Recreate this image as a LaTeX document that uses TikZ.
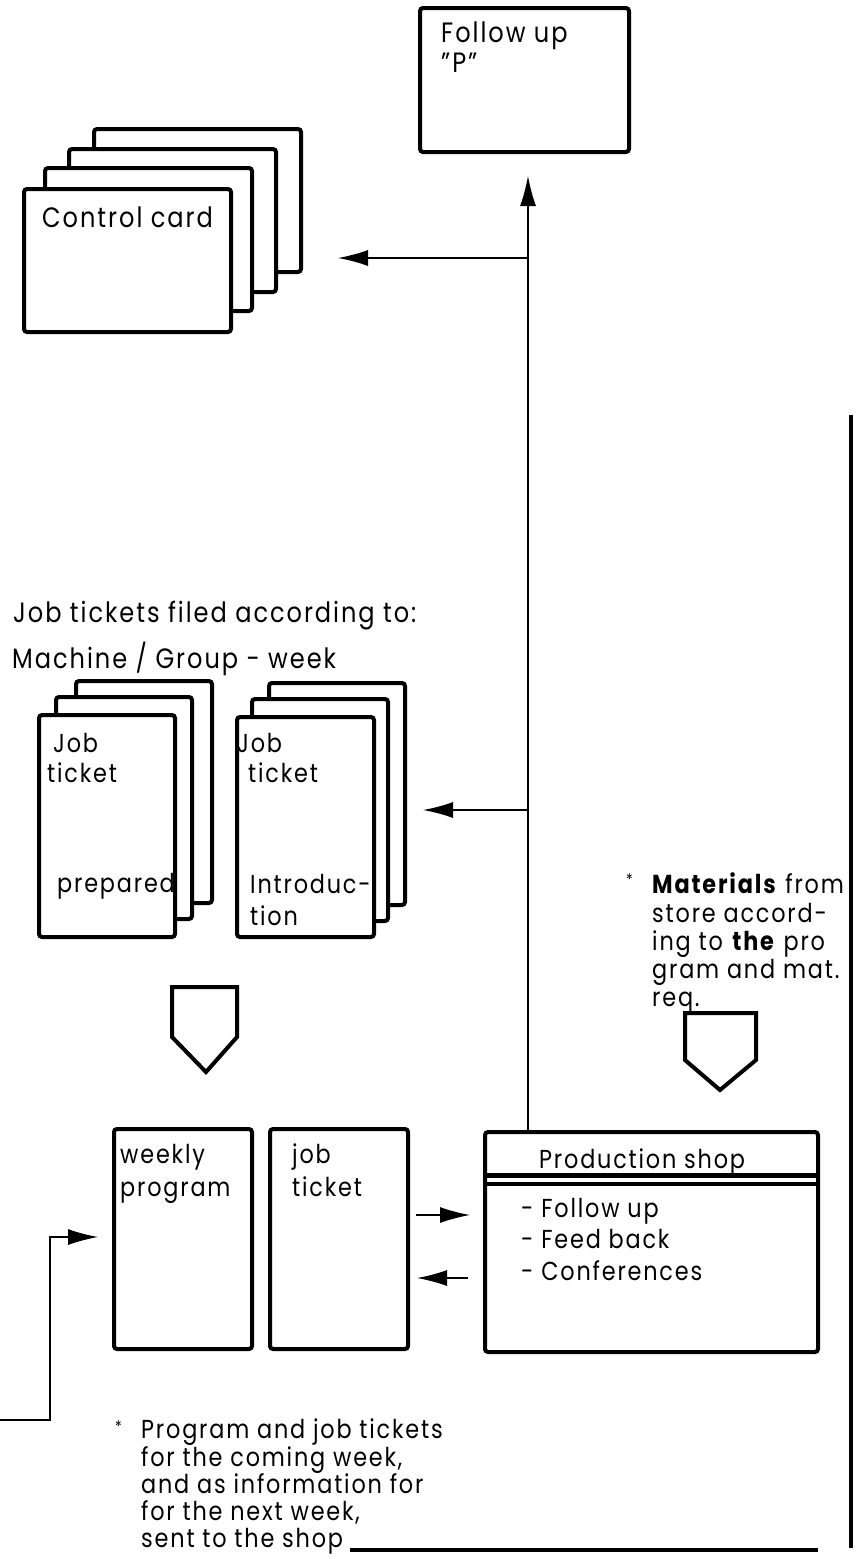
\documentclass[tikz,border=0pt]{standalone}
\usepackage{fontspec}
\setmainfont{Poppins}[FakeStretch=0.86,LetterSpace=7]
\usetikzlibrary{arrows.meta}
\begin{document}
\begin{tikzpicture}[x=1pt,y=-1pt,
  card/.style={draw=black, line width=4pt, fill=white, rounded corners=3pt},
  box/.style={draw=black, line width=4pt, fill=white, rounded corners=3pt, inner sep=0pt, anchor=north west},
  pent/.style={draw=black, line width=4pt, line join=miter, fill=white},
  conn/.style={line width=1.3pt},
  arr/.style={-{Latex[length=30pt,width=16pt]}},
  txt/.style={anchor=base west, inner sep=0pt, font=\fontsize{26}{28}\selectfont},
  bigtxt/.style={anchor=base west, inner sep=0pt, font=\fontsize{28}{30}\selectfont}]
\useasboundingbox (0,0) rectangle (856,1559);

% Follow up box
\node[box, minimum width=209pt, minimum height=144pt] (fu) at (418,6) {};
\node[bigtxt] (fut1) at (441,42) {Follow up};
\node[bigtxt] (fut2) at (441,72) {\symbol{34}P\symbol{34}};

% Control card stack
\draw[card] (94,129) rectangle ++(207,143);
\draw[card] (69,149) rectangle ++(207,143);
\draw[card] (45,168) rectangle ++(207,143);
\node[box, minimum width=207pt, minimum height=143pt] (cc) at (22,187) {};
\node[bigtxt] (cct) at (42,227) {Control card};

% Job tickets heading
\node[bigtxt] (jh1) at (13,622) {Job tickets filed according to:};
\node[bigtxt] (jh2) at (12,668) {Machine / Group - week};

% Left job ticket stack
\draw[card] (76,681) rectangle ++(136,222);
\draw[card] (56,697) rectangle ++(136,222);
\node[box, minimum width=136pt, minimum height=222pt] (jl) at (37,713) {};
\node[txt] (jl1) at (53,752) {Job};
\node[txt] (jl2) at (47,782) {ticket};
\node[txt] (jl3) at (57,892) {prepared};

% Right job ticket stack
\draw[card] (269,683) rectangle ++(136,222);
\draw[card] (252,699) rectangle ++(136,222);
\node[box, minimum width=137pt, minimum height=220pt] (jr) at (235,715) {};
\node[txt] (jr1) at (237,752) {Job};
\node[txt] (jr2) at (248,782) {ticket};
\node[txt] (jr3) at (250,893) {Introduc-};
\node[txt] (jr4) at (250,925) {tion};

% Materials note (clipped by the right border)
\begin{scope}
\clip (600,850) rectangle (849,1012);
\node[txt] (mast) at (626,885) {\fontsize{16}{16}\selectfont *};
\node[txt] (mat1) at (652,893) {\textbf{Materials} from};
\node[txt] (mat2) at (652,922) {store accord-};
\node[txt] (mat3) at (652,950) {ing to \textbf{the} pro};
\node[txt] (mat4) at (652,978) {gram and mat.};
\node[txt] (mat5) at (652,1006) {req.};
\end{scope}

% Pentagon markers
\draw[pent] (172,987) -- (237,987) -- (237,1037) -- (206,1072) -- (172,1037) -- cycle;
\draw[pent] (685,1013) -- (756,1013) -- (756,1060) -- (720,1090) -- (685,1060) -- cycle;

% Bottom boxes
\node[box, minimum width=138pt, minimum height=220pt] (wp) at (112,1127) {};
\node[txt] (wp1) at (120,1163) {weekly};
\node[txt] (wp2) at (120,1196) {program};
\node[box, minimum width=138pt, minimum height=220pt] (jt) at (268,1127) {};
\node[txt] (jt1) at (292,1163) {job};
\node[txt] (jt2) at (292,1196) {ticket};

\node[box, minimum width=333pt, minimum height=220pt] (ps) at (483,1130) {};
\draw[line width=4.5pt] (ps.west |- 0,1175.5) -- (ps.east |- 0,1175.5);
\draw[line width=4pt] (ps.west |- 0,1184) -- (ps.east |- 0,1184);
\node[txt] (pst) at (539,1168) {Production shop};
\node[txt] (ps1) at (521,1217) {- Follow up};
\node[txt] (ps2) at (521,1248) {- Feed back};
\node[txt] (ps3) at (521,1280) {- Conferences};

% Bottom note
\node[txt] (bast) at (115,1432) {\fontsize{16}{16}\selectfont *};
\node[txt] (bn1) at (141,1438) {Program and job tickets};
\node[txt] (bn2) at (141,1466) {for the coming week,};
\node[txt] (bn3) at (141,1493) {and as information for};
\node[txt] (bn4) at (141,1520) {for the next week,};
\node[txt] (bn5) at (141,1547) {sent to the shop};

% Connectors
\coordinate (vx) at (528,0);
\coordinate (b1) at (528,258);
\coordinate (t1) at (338,258);
\coordinate (b2) at (528,810);
\coordinate (t2) at (423,810);
\draw[conn,arr,shorten >=22pt] (ps.north -| vx) -- (fu.south -| vx);
\draw[conn,arr] (b1) -- (t1);
\draw[conn,arr] (b2) -- (t2);

\coordinate (ra) at (416,1215);
\coordinate (la) at (468,1278);
\draw[conn,arr,shorten >=13pt] (ra) -- (ps.west |- ra);
\draw[conn,arr,shorten >=7pt] (la) -- (jt.east |- la);

\coordinate (e0) at (0,1420);
\coordinate (e1) at (50,1237);
\draw[conn,arr,shorten >=14pt] (e0) -| (e1) -- (wp.west |- e1);

% Frame lines
\coordinate (f1) at (350,1550);
\coordinate (f2) at (818,1550);
\coordinate (f3) at (851,415);
\coordinate (f4) at (851,1548);
\draw[line width=4pt] (f1) -- (f2);
\draw[line width=4pt] (f3) -- (f4);
\end{tikzpicture}
\end{document}
